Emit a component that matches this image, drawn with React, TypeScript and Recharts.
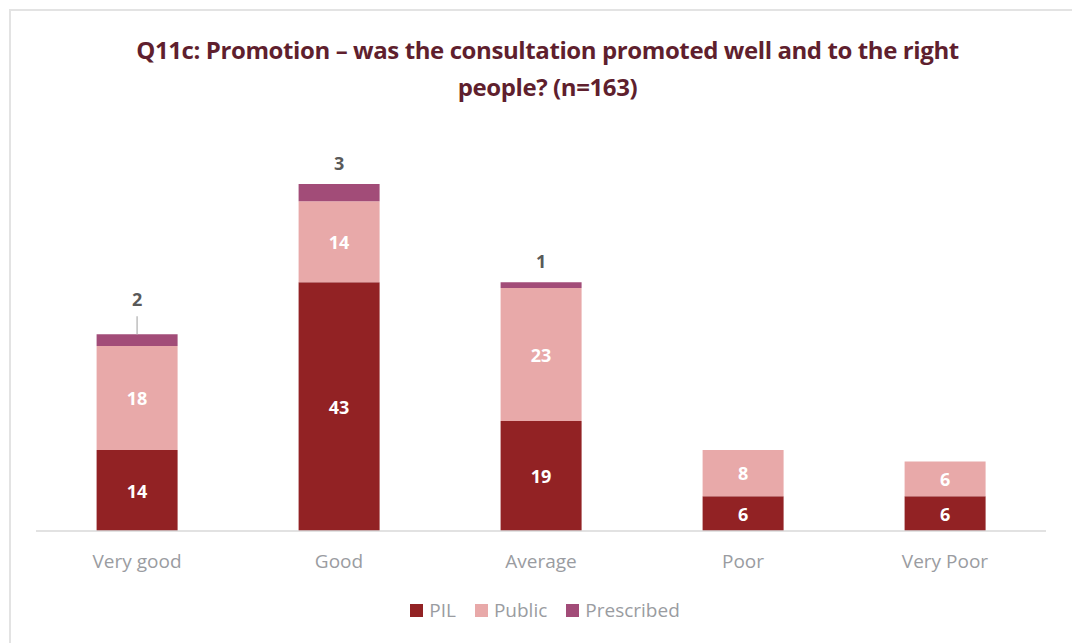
import React from "react";
import { BarChart, Bar, XAxis, YAxis, LabelList } from "recharts";

const CATEGORIES = ["Very good", "Good", "Average", "Poor", "Very Poor"];
const PIL = [14, 43, 19, 6, 6];
const PUBLIC = [18, 14, 23, 8, 6];
const PRESCRIBED = [2, 3, 1, 0, 0];

const SERIES = [
  { key: "PIL", color: "#922224" },
  { key: "Public", color: "#E8A9A9" },
  { key: "Prescribed", color: "#A24C78" },
];

const data = CATEGORIES.map((name, i) => ({
  name,
  PIL: PIL[i],
  Public: PUBLIC[i],
  Prescribed: PRESCRIBED[i],
}));

const FONT = "Open Sans, Noto Sans, sans-serif";

// white value inside the segment
const InnerLabel = (props: any) => {
  const { x, y, width, height, value } = props;
  if (!value) return null;
  return (
    <text
      x={x + width / 2}
      y={y + height / 2}
      fill="#fff"
      fontSize={18}
      fontWeight={700}
      fontFamily={FONT}
      textAnchor="middle"
      dominantBaseline="central"
    >
      {value}
    </text>
  );
};

// grey value above the bar, first one pushed up with a leader line
const TopLabel = (props: any) => {
  const { x, y, width, value, index } = props;
  if (!value) return null;
  const cx = x + width / 2;
  const lifted = index === 0;
  const ty = lifted ? y - 35 : y - 21;
  return (
    <g>
      {lifted && <line x1={cx} x2={cx} y1={y} y2={y - 18} stroke="#bfbfbf" strokeWidth={1.5} />}
      <text
        x={cx}
        y={ty}
        fill="#595959"
        fontSize={18}
        fontWeight={700}
        fontFamily={FONT}
        textAnchor="middle"
        dominantBaseline="central"
      >
        {value}
      </text>
    </g>
  );
};

export default function App() {
  return (
    <div style={{ position: "absolute", left: 0, top: 0, width: 1072, height: 643, background: "#fff", overflow: "hidden" }}>
      <div
        style={{
          position: "absolute",
          left: 9,
          top: 9,
          width: 1080,
          height: 660,
          border: "2px solid #e3e3e3",
        }}
      />
      <div
        style={{
          position: "absolute",
          left: 0,
          top: 31,
          width: 1095,
          textAlign: "center",
          fontFamily: FONT,
          fontWeight: 700,
          fontSize: 24,
          lineHeight: "37px",
          color: "#5f1f2e",
          letterSpacing: -0.4,
        }}
      >
        Q11c: Promotion – was the consultation promoted well and to the right
        <br />
        people? (n=163)
      </div>
      <div style={{ position: "absolute", left: 0, top: 0 }}>
        <BarChart
          width={1072}
          height={643}
          data={data}
          margin={{ top: 184, right: 26, bottom: 80, left: 36 }}
          barCategoryGap="30%"
        >
          <XAxis
            dataKey="name"
            axisLine={{ stroke: "#d9d9d9", strokeWidth: 1.5 }}
            tickLine={false}
            height={32}
            tick={{ fill: "#9a9ca1", fontSize: 19, fontFamily: FONT, dy: 16 }}
          />
          <YAxis hide domain={[0, 60]} />
          <Bar dataKey="PIL" stackId="a" fill="#922224" isAnimationActive={false}>
            <LabelList dataKey="PIL" content={<InnerLabel />} />
          </Bar>
          <Bar dataKey="Public" stackId="a" fill="#E8A9A9" isAnimationActive={false}>
            <LabelList dataKey="Public" content={<InnerLabel />} />
          </Bar>
          <Bar dataKey="Prescribed" stackId="a" fill="#A24C78" isAnimationActive={false}>
            <LabelList dataKey="Prescribed" content={<TopLabel />} />
          </Bar>
        </BarChart>
      </div>
      <div
        style={{
          position: "absolute",
          left: 0,
          top: 597,
          width: 1090,
          display: "flex",
          justifyContent: "center",
          gap: 19,
          fontFamily: FONT,
        }}
      >
        {SERIES.map((s) => (
          <div key={s.key} style={{ display: "flex", alignItems: "center", fontSize: 19, color: "#9a9ca1" }}>
            <span style={{ width: 13, height: 13, background: s.color, display: "inline-block", marginRight: 6 }} />
            {s.key}
          </div>
        ))}
      </div>
    </div>
  );
}
